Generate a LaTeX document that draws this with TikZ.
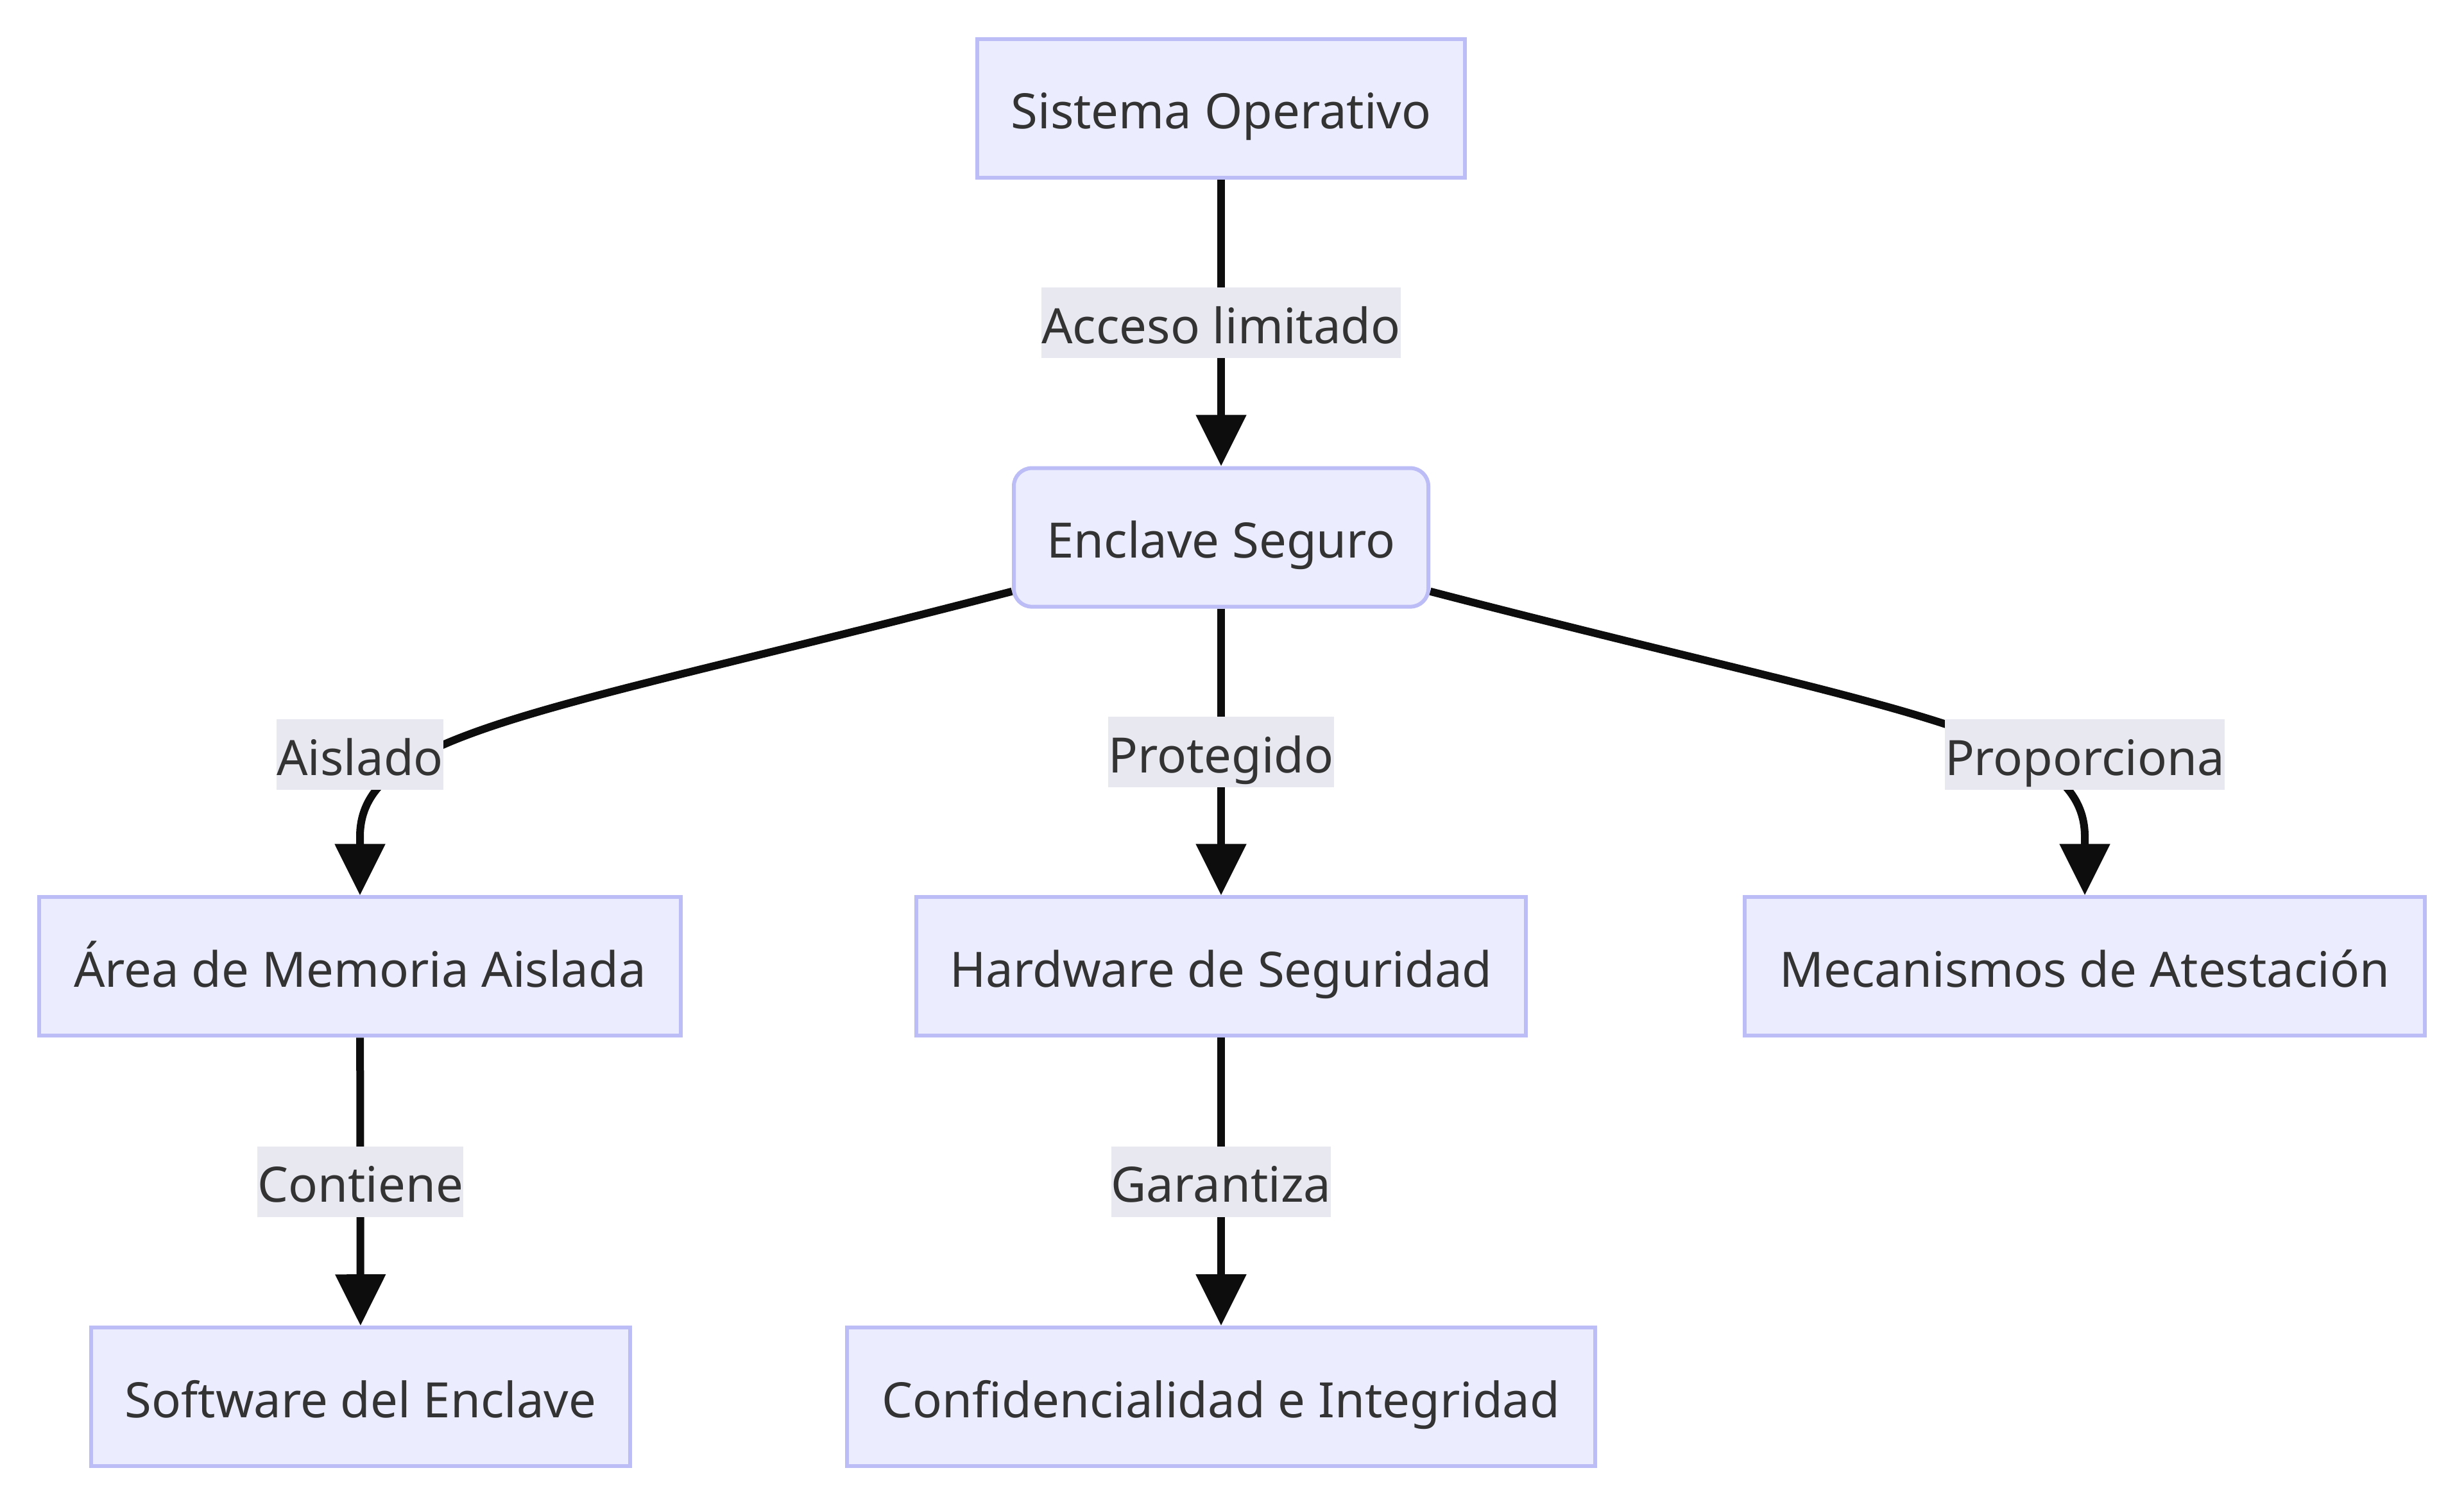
\documentclass[tikz,border=0pt]{standalone}
\usepackage{fontspec}
\setmainfont{Noto Sans}
\usetikzlibrary{arrows.meta}
\definecolor{nf}{RGB}{236,236,255}
\definecolor{bd}{RGB}{188,188,246}
\definecolor{lb}{RGB}{232,232,240}
\definecolor{tx}{RGB}{51,51,51}
\definecolor{ed}{RGB}{13,13,13}
\tikzset{
  box/.style={draw=bd, fill=nf, line width=1.5pt, minimum height=54pt, inner sep=0pt,
    text height=18pt, text depth=2pt,
    text=tx, font=\fontsize{19}{23}\selectfont},
  lbl/.style={fill=lb, inner xsep=0pt, inner ysep=0pt, minimum height=27.5pt,
    text height=18pt, text depth=2pt,
    text=tx, font=\fontsize{19}{23}\selectfont},
  edge/.style={draw=ed, line width=3pt, -{Triangle[length=20pt,width=19pt]}}
}
\begin{document}
\begin{tikzpicture}[x=1pt,y=1pt]
\useasboundingbox[fill=white] (0,0) rectangle (960,-585.25);
\node[box, minimum width=190pt] (SO) at (475.75,-42.25) {Sistema Operativo};
\node[box, minimum width=161.5pt, rounded corners=7pt] (ES) at (475.75,-209.4) {Enclave Seguro};
\node[box, minimum width=250pt] (AR) at (140.25,-376.6) {Área de Memoria Aislada};
\node[box, minimum width=237.5pt] (HW) at (475.75,-376.6) {Hardware de Seguridad};
\node[box, minimum width=265pt] (ME) at (812.25,-376.6) {Mecanismos de Atestación};
\node[box, minimum width=210pt] (SW) at (140.5,-544.3) {Software del Enclave};
\node[box, minimum width=291.5pt] (CI) at (475.75,-544.3) {Confidencialidad e Integridad};

\draw[edge] (SO) -- node[lbl] (L1) {Acceso limitado} (ES);
\draw[edge] ([yshift=6.7pt]ES.south west) .. controls (211.5,-278) and (140.25,-285) .. (140.25,-326) -- (AR.north);
\draw[edge] (ES) -- node[lbl] (L3) {Protegido} (HW);
\draw[edge] ([yshift=6.7pt]ES.south east) .. controls (740,-278) and (812.25,-285) .. (812.25,-326) -- (ME.north);
\draw[edge] (AR) -- node[lbl] (L5) {Contiene} (SW);
\draw[edge] (HW) -- node[lbl] (L6) {Garantiza} (CI);
\node[lbl] (L2) at (140.25,-294) {Aislado};
\node[lbl] (L4) at (812.25,-294) {Proporciona};
\end{tikzpicture}
\end{document}
